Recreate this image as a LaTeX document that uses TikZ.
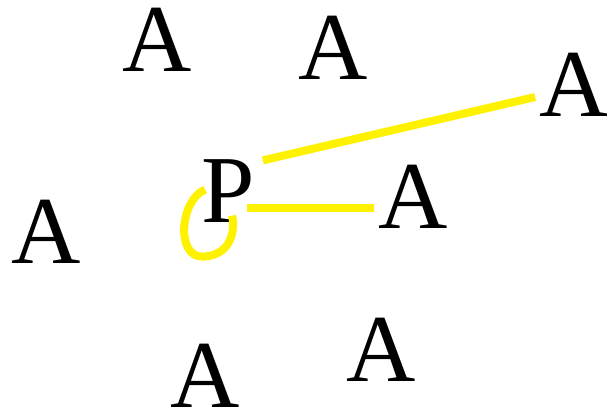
\documentclass[tikz,border=0pt]{standalone}
\usepackage{fontspec}
\setmainfont{Liberation Serif}
\begin{document}
\begin{tikzpicture}[x=1pt,y=-1pt,
  lbl/.style={inner sep=0pt,font=\fontsize{96}{96}\selectfont},
  link/.style={draw=yellow,line width=8pt}]
\useasboundingbox (0,0) rectangle (607,413);
\node[lbl] (A1) at (157,40) {A};
\node[lbl] (A2) at (333,47.5) {A};
\node[lbl] (A3) at (574,85) {A};
\node[lbl] (P) at (228,191) {P};
\node[lbl] (A4) at (413,197) {A};
\node[lbl] (A5) at (46,232) {A};
\node[lbl] (A6) at (205,376) {A};
\node[lbl] (A7) at (381,350) {A};
\draw[link] ([shift={(8,1)}]P.north east) -- ([shift={(-4,12)}]A3.west);
\draw[link] ([shift={(-8,17)}]P.east) -- ([shift={(-4,11)}]A4.west);
\draw[link] ([shift={(4,-33)}]P.south west) .. controls +(-25,10) and +(-28,1) .. ([shift={(2,34)}]P.south west)
  .. controls +(25,-1) and +(4,19) .. ([shift={(31,-7)}]P.south west);
\end{tikzpicture}
\end{document}
